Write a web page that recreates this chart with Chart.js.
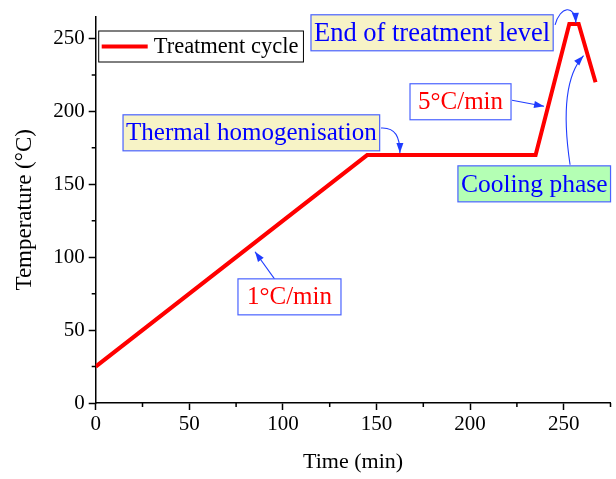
<!DOCTYPE html>
<html>
<head>
<meta charset="utf-8">
<script src="https://cdn.jsdelivr.net/npm/chart.js@4"></script>
<style>
  html, body { margin: 0; padding: 0; background: #fff; }
  #wrap { width: 616px; height: 479px; }
</style>
</head>
<body>
<div id="wrap"><canvas id="chart"></canvas></div>
<script>
// treatment cycle
const timeMin = [0, 145, 235, 253, 258, 267];
const tempC = [25, 170, 170, 260, 260, 220];
const xTickLabels = [0, 50, 100, 150, 200, 250];
const yTickLabels = [0, 50, 100, 150, 200, 250];
const seriesName = 'Treatment cycle';

// annotation boxes: text, anchor (left edge, vertical centre) in data units
const noteTexts = ['Thermal homogenisation', '1°C/min', 'End of treatment level', '5°C/min', 'Cooling phase'];
const noteAnchors = [[14.6, 185.3], [76, 72.8], [115, 253.9], [167.9, 206.6], [193.5, 150.3]];
const noteFills = ['#f7f3c6', '#ffffff', '#f7f3c6', '#ffffff', '#b4ffb4'];
const noteColors = ['#0000ff', '#ff0000', '#0000ff', '#ff0000', '#0000ff'];
const noteSizes = [25, 25, 26.5, 25, 25.5];
const notePads = [3, 9, 3, 8, 3];
// arrows: list of points in data units (start, control points..., tip)
const noteArrows = [
    [[152.4, 188.6], [160.3, 189.2], [162.5, 182], [162.5, 171.5]],
    [[95.8, 84.6], [85.1, 103.7]],
    [[245.4, 259.3], [248, 272.2], [256, 273.6], [256.5, 260.7]],
    [[222.4, 207.6], [239.5, 203.5]],
    [[253.4, 163.4], [246.9, 219.2], [260.6, 238.2]]
];

const FONT = "'Liberation Serif', 'Times New Roman', serif";

const annotate = {
    id: 'annotate',
    afterDatasetsDraw(chart) {
        const ctx = chart.ctx;
        const xs = chart.scales.x, ys = chart.scales.y;
        const px = p => [xs.getPixelForValue(p[0]), ys.getPixelForValue(p[1])];
        ctx.save();

        // minor ticks
        ctx.strokeStyle = '#000';
        ctx.lineWidth = 1.5;
        ctx.beginPath();
        for (let v = 25; v <= xs.max; v += 50) {
            const x = xs.getPixelForValue(v);
            ctx.moveTo(x, xs.top); ctx.lineTo(x, xs.top + 4);
        }
        for (let v = 25; v <= ys.max; v += 50) {
            const y = ys.getPixelForValue(v);
            ctx.moveTo(ys.right, y); ctx.lineTo(ys.right - 4, y);
        }
        ctx.stroke();

        // arrows
        ctx.strokeStyle = '#1f3cff';
        ctx.fillStyle = '#1f3cff';
        ctx.lineWidth = 1.1;
        noteArrows.forEach(pts => {
            const p = pts.map(px);
            ctx.beginPath();
            ctx.moveTo(p[0][0], p[0][1]);
            if (p.length === 2) ctx.lineTo(p[1][0], p[1][1]);
            else if (p.length === 3) ctx.quadraticCurveTo(p[1][0], p[1][1], p[2][0], p[2][1]);
            else ctx.bezierCurveTo(p[1][0], p[1][1], p[2][0], p[2][1], p[3][0], p[3][1]);
            ctx.stroke();
            const tip = p[p.length - 1], prev = p[p.length - 2];
            const a = Math.atan2(tip[1] - prev[1], tip[0] - prev[0]);
            ctx.beginPath();
            ctx.moveTo(tip[0], tip[1]);
            ctx.lineTo(tip[0] - 10 * Math.cos(a) + 3.5 * Math.sin(a), tip[1] - 10 * Math.sin(a) - 3.5 * Math.cos(a));
            ctx.lineTo(tip[0] - 10 * Math.cos(a) - 3.5 * Math.sin(a), tip[1] - 10 * Math.sin(a) + 3.5 * Math.cos(a));
            ctx.closePath();
            ctx.fill();
        });

        // boxes
        ctx.textBaseline = 'middle';
        noteTexts.forEach((t, i) => {
            ctx.font = noteSizes[i] + 'px ' + FONT;
            const [x, y] = px(noteAnchors[i]);
            const w = ctx.measureText(t).width + 2 * notePads[i];
            const h = 36;
            ctx.fillStyle = noteFills[i];
            ctx.fillRect(x, y - h / 2, w, h);
            ctx.strokeStyle = '#4a63ff';
            ctx.lineWidth = 1.2;
            ctx.strokeRect(x, y - h / 2, w, h);
            ctx.fillStyle = noteColors[i];
            ctx.fillText(t, x + notePads[i], y + 1);
        });

        // legend
        const lx = chart.chartArea.left + 3, ly = 31;
        ctx.font = '22.5px ' + FONT;
        const lw = 55 + ctx.measureText(seriesName).width + 5;
        ctx.fillStyle = '#fff';
        ctx.fillRect(lx, ly, lw, 31);
        ctx.strokeStyle = '#000';
        ctx.lineWidth = 1;
        ctx.strokeRect(lx, ly, lw, 31);
        ctx.strokeStyle = '#ff0000';
        ctx.lineWidth = 4;
        ctx.beginPath();
        ctx.moveTo(lx + 3, ly + 15.5); ctx.lineTo(lx + 49, ly + 15.5);
        ctx.stroke();
        ctx.fillStyle = '#000';
        ctx.fillText(seriesName, lx + 55, ly + 16.5);

        ctx.restore();
    }
};

function tickSet(scale) {
    const out = [];
    for (let v = scale.min; v <= scale.max; v += 50) out.push({ value: v });
    scale.ticks = out;
}

new Chart(document.getElementById('chart'), {
    type: 'line',
    data: {
        datasets: [{
            label: seriesName,
            data: timeMin.map((t, i) => ({ x: t, y: tempC[i] })),
            borderColor: '#ff0000',
            borderWidth: 4,
            pointRadius: 0,
            fill: false,
            tension: 0
        }]
    },
    options: {
        responsive: true,
        maintainAspectRatio: false,
        animation: false,
        layout: { padding: { top: 11, right: 5.5, left: 0, bottom: 0 } },
        plugins: {
            legend: { display: false },
            tooltip: { enabled: false }
        },
        scales: {
            x: {
                type: 'linear',
                min: 0,
                max: 275,
                afterBuildTicks: tickSet,
                afterFit: s => { s.height = 76; },
                grid: { drawOnChartArea: false, tickLength: 7, tickColor: '#000', tickWidth: 1.5 },
                border: { color: '#000', width: 1.5 },
                ticks: {
                    color: '#000',
                    font: { family: FONT, size: 21 },
                    padding: 2,
                    maxRotation: 0,
                    callback: v => xTickLabels.includes(v) ? v : ''
                },
                title: {
                    display: true,
                    text: 'Time (min)',
                    color: '#000',
                    font: { family: FONT, size: 22 },
                    padding: { top: 0, bottom: 4 }
                }
            },
            y: {
                type: 'linear',
                min: 0,
                max: 265,
                afterBuildTicks: tickSet,
                afterFit: s => { s.width = 95.7; },
                grid: { drawOnChartArea: false, tickLength: 7, tickColor: '#000', tickWidth: 1.5 },
                border: { color: '#000', width: 1.5 },
                ticks: {
                    color: '#000',
                    font: { family: FONT, size: 21 },
                    padding: 4,
                    callback: v => yTickLabels.includes(v) ? v : ''
                },
                title: {
                    display: true,
                    text: 'Temperature (°C)',
                    color: '#000',
                    font: { family: FONT, size: 23 },
                    padding: { top: 11, bottom: 0 }
                }
            }
        }
    },
    plugins: [annotate]
});
</script>
</body>
</html>
